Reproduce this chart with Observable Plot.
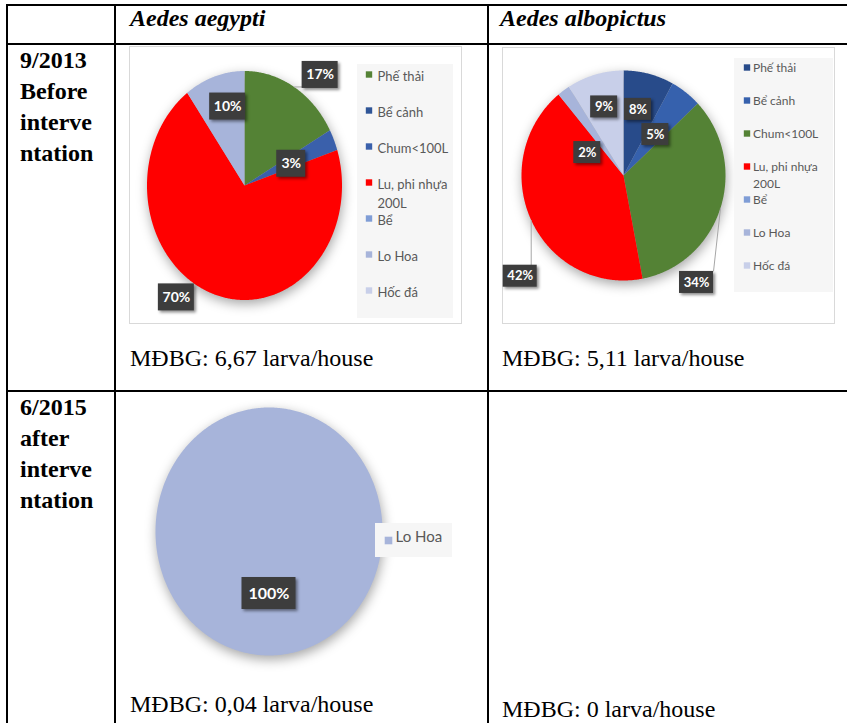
<!DOCTYPE html>
<html><head><meta charset="utf-8">
<script src="https://cdn.jsdelivr.net/npm/d3@7"></script>
<script src="https://cdn.jsdelivr.net/npm/@observablehq/plot@0.6"></script>
<style>
body{margin:0;background:#fff;}
#page{position:relative;width:847px;height:723px;overflow:hidden;background:#fff;font-family:"Liberation Serif","Times New Roman",serif;color:#000;}
.ln{position:absolute;background:#000;}
.txt{position:absolute;white-space:nowrap;}
.frame{position:absolute;border:1.5px solid #d9d9d9;box-sizing:border-box;background:#fff;}
.abs{position:absolute;line-height:0;}
.abs svg{overflow:visible;}
.pie g[aria-label="line"]{filter:drop-shadow(1px 4px 6px rgba(0,0,0,0.35));}
.pie g[aria-label="rect"]{filter:drop-shadow(2px 2px 1.5px rgba(0,0,0,0.45));}
</style></head><body><div id="page"></div>
<script>
// ---------- data ----------
const categories = ["Phế thải", "Bể cảnh", "Chum<100L", "Lu, phi nhựa 200L", "Bể", "Lo Hoa", "Hốc đá"];
const aegypti2013 = [17, 0, 3, 70, 0, 10, 0];
const albopictus2013 = [8, 5, 34, 42, 0, 2, 9];
const aegypti2015 = [0, 0, 0, 0, 0, 100, 0];
const legend2015 = ["Lo Hoa"];
const columnHeaders = ["Aedes aegypti", "Aedes albopictus"];
const rowHeaders = [["9/2013", "Before", "interve", "ntation"], ["6/2015", "after", "interve", "ntation"]];
const densityLabels = ["MĐBG: 6,67 larva/house", "MĐBG: 5,11 larva/house", "MĐBG: 0,04 larva/house", "MĐBG: 0 larva/house"];

// ---------- styles ----------
const colorsAegypti = ["#548235", "#2f5597", "#3a60ab", "#ff0000", "#7f9dd6", "#a7b4da", "#c8cfe9"];
const colorsAlbopictus = ["#284b8a", "#3661ad", "#548235", "#ff0000", "#7f9dd6", "#a7b4da", "#c8cfe9"];

const page = document.getElementById("page");
function add(el, cls, css) { el.className = cls; Object.assign(el.style, css); page.appendChild(el); return el; }
function line(l, t, w, h) { add(document.createElement("div"), "ln", {left: l + "px", top: t + "px", width: w + "px", height: h + "px"}); }
function text(str, l, t, css) { const d = add(document.createElement("div"), "txt", Object.assign({left: l + "px", top: t + "px"}, css)); d.textContent = str; return d; }

// table grid
line(6, 4, 841, 2);
line(6, 43, 841, 2);
line(6, 390, 841, 2);
line(6, 4, 2, 719);
line(114, 4, 2, 719);
line(487, 4, 2, 719);

// headers
text(columnHeaders[0], 130, 4, {font: "italic bold 24px 'Liberation Serif'", lineHeight: "28px"});
text(columnHeaders[1], 500, 4, {font: "italic bold 24px 'Liberation Serif'", lineHeight: "28px"});
rowHeaders.forEach((lines, i) => {
  const d = text("", 20, i === 0 ? 45 : 392, {font: "bold 24px 'Liberation Serif'", lineHeight: "31px", whiteSpace: "pre"});
  d.textContent = lines.join("\n");
});
const dCss = {font: "24px 'Liberation Serif'", lineHeight: "30px"};
text(densityLabels[0], 130, 343, dCss);
text(densityLabels[1], 502, 343, dCss);
text(densityLabels[2], 130, 689, dCss);
text(densityLabels[3], 502, 694, dCss);

// chart frames
add(document.createElement("div"), "frame", {left: "129px", top: "46px", width: "333px", height: "278px"});
add(document.createElement("div"), "frame", {left: "502px", top: "47px", width: "333px", height: "277px"});

function place(node, box, cls) {
  const w = add(document.createElement("div"), "abs " + (cls || ""), {left: box.left + "px", top: box.top + "px", width: box.width + "px", height: box.height + "px"});
  w.appendChild(node);
}

function piePlot({values, colors, box, center, rx, ry, placement, lab}) {
  const cx = center[0] - box.left, cy = center[1] - box.top;
  const arcs = d3.pie().sort(null).value(d => d.value)(categories.map((c, i) => ({category: c, value: values[i]})));
  const slices = arcs.filter(a => a.data.value > 0);
  const pts = [];
  for (const a of slices) {
    const c = a.data.category;
    pts.push({category: c, x: 0, y: 0});
    const n = Math.max(2, Math.ceil((a.endAngle - a.startAngle) / (Math.PI / 360)));
    for (let k = 0; k <= n; k++) {
      const t = a.startAngle + (a.endAngle - a.startAngle) * k / n;
      pts.push({category: c, x: Math.sin(t), y: Math.cos(t)});
    }
    pts.push({category: c, x: 0, y: 0});
  }
  const labels = [], links = [];
  for (const a of slices) {
    const c = a.data.category, p = placement[c];
    const mid = (a.startAngle + a.endAngle) / 2;
    const axp = cx + p.r * Math.sin(mid) * rx, ayp = cy - p.r * Math.cos(mid) * ry;
    const px = axp + p.dx, py = ayp + p.dy;
    const str = a.data.value + "%";
    const w = str.length * lab.charW + lab.pad, h = lab.h;
    const toX = v => (v - cx) / rx, toY = v => (cy - v) / ry;
    labels.push({category: c, text: str, x: toX(px), y: toY(py), x1: toX(px - w / 2), x2: toX(px + w / 2), y1: toY(py - h / 2), y2: toY(py + h / 2)});
    if (p.leader) {
      const qx = Math.max(px - w / 2, Math.min(px + w / 2, axp));
      const qy = Math.max(py - h / 2, Math.min(py + h / 2, ayp));
      links.push({x1: toX(axp), y1: toY(ayp), x2: toX(qx), y2: toY(qy)});
    }
  }
  const svg = Plot.plot({
    width: box.width, height: box.height, margin: 0,
    x: {domain: [-1, 1], range: [cx - rx, cx + rx], axis: null},
    y: {domain: [-1, 1], range: [cy + ry, cy - ry], axis: null},
    color: {domain: categories, range: colors},
    style: {background: "transparent", overflow: "visible"},
    marks: [
      Plot.line(pts, {x: "x", y: "y", z: "category", fill: "category", stroke: "none", curve: "linear"}),
      Plot.link(links, {x1: "x1", y1: "y1", x2: "x2", y2: "y2", stroke: "#a6a6a6", strokeWidth: 1}),
      Plot.rect(labels, {x1: "x1", x2: "x2", y1: "y1", y2: "y2", fill: "#3d3d3d"}),
      Plot.text(labels, {x: "x", y: "y", text: "text", fill: "#ffffff", fontWeight: "bold", fontSize: lab.font, fontFamily: "Lato, 'Open Sans', sans-serif"})
    ]
  });
  place(svg, box, "pie");
}

function legendPlot({cats, colors, box, first, last, font, swatchX, textX, r, lineHeight}) {
  const wrap = d => d.replace(" 200L", "\n200L");
  const svg = Plot.plot({
    width: box.width, height: box.height, margin: 0,
    y: {type: "point", domain: cats, range: [first, last], padding: 0, align: 0.5, axis: null},
    color: {domain: categories, range: colors},
    style: {background: "#f6f6f6", overflow: "visible"},
    marks: [
      Plot.dot(cats, {y: d => d, frameAnchor: "left", dx: swatchX, symbol: "square", r, fill: d => d, stroke: "none"}),
      Plot.text(cats, {y: d => d, frameAnchor: "left", dx: textX, text: wrap, textAnchor: "start", lineAnchor: "top", dy: -0.58 * font, lineHeight, fontSize: font, fill: "#595959", fontFamily: "Lato, 'Open Sans', sans-serif"})
    ]
  });
  place(svg, box);
}

// 9/2013 Aedes aegypti
piePlot({
  values: aegypti2013, colors: colorsAegypti,
  box: {left: 129, top: 46, width: 333, height: 278}, center: [244, 185], rx: 97.5, ry: 114.5,
  placement: {
    "Phế thải": {r: 1, dx: 26, dy: -12, leader: true},
    "Chum<100L": {r: 0.5, dx: 2, dy: 1},
    "Lu, phi nhựa 200L": {r: 1, dx: -38, dy: 3},
    "Lo Hoa": {r: 0.725, dx: 5, dy: 0}
  },
  lab: {font: 14, charW: 7, pad: 15, h: 27}
});
legendPlot({cats: categories, colors: colorsAegypti, box: {left: 357, top: 64, width: 96, height: 254}, first: 9, last: 226, font: 13, swatchX: 11.5, textX: 20, r: 3.6, lineHeight: 1.5});

// 9/2013 Aedes albopictus
piePlot({
  values: albopictus2013, colors: colorsAlbopictus,
  box: {left: 502, top: 47, width: 333, height: 277}, center: [623, 175], rx: 102, ry: 105,
  placement: {
    "Phế thải": {r: 0.65, dx: -2, dy: 0},
    "Bể cảnh": {r: 0.494, dx: 1, dy: 0},
    "Chum<100L": {r: 1, dx: -24, dy: 74.5, leader: true},
    "Lu, phi nhựa 200L": {r: 1, dx: -11, dy: 56, leader: true},
    "Lo Hoa": {r: 0.27, dx: -20, dy: 0},
    "Hốc đá": {r: 0.68, dx: 0, dy: 0}
  },
  lab: {font: 13, charW: 7, pad: 13, h: 22}
});
legendPlot({cats: categories, colors: colorsAlbopictus, box: {left: 734, top: 58, width: 99, height: 234}, first: 7, last: 209, font: 12, swatchX: 12.5, textX: 18.5, r: 3.6, lineHeight: 1.4});

// 6/2015 Aedes aegypti
piePlot({
  values: aegypti2015, colors: colorsAegypti,
  box: {left: 125, top: 395, width: 355, height: 290}, center: [268.5, 531], rx: 113.5, ry: 124,
  placement: {"Lo Hoa": {r: 0.5, dx: 0, dy: 0}},
  lab: {font: 16, charW: 10, pad: 14, h: 32}
});
legendPlot({cats: legend2015, colors: colorsAegypti, box: {left: 375, top: 523, width: 77, height: 34}, first: 17, last: 17, font: 15, swatchX: 13, textX: 20, r: 4.3, lineHeight: 1});
</script></body></html>
